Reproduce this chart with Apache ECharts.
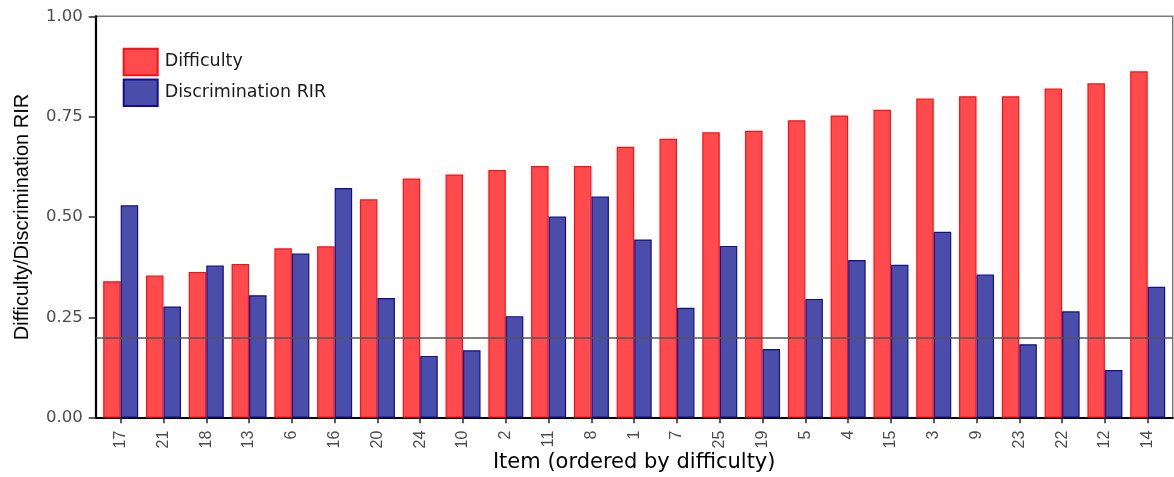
<!DOCTYPE html>
<html>
<head>
<meta charset="utf-8">
<script src="https://cdn.jsdelivr.net/npm/echarts@6/dist/echarts.min.js"></script>
<style>
html,body{margin:0;padding:0;background:#fff;}
#chart{width:1174px;height:477px;}
</style>
</head>
<body>
<div id="chart"></div>
<script>
const items = ['17','21','18','13','6','16','20','24','10','2','11','8','1','7','25','19','5','4','15','3','9','23','22','12','14'];
const difficulty = [0.340,0.354,0.363,0.383,0.422,0.427,0.544,0.596,0.606,0.617,0.627,0.627,0.675,0.695,0.711,0.715,0.741,0.753,0.767,0.795,0.801,0.801,0.820,0.833,0.863];
const discrimination = [0.529,0.277,0.379,0.305,0.409,0.572,0.298,0.154,0.168,0.253,0.501,0.551,0.444,0.274,0.428,0.171,0.296,0.393,0.381,0.463,0.357,0.183,0.265,0.119,0.326];
const yMin = 0, yMax = 1, yInterval = 0.25;
const refLine = 0.2;

const chart = echarts.init(document.getElementById('chart'), null, {renderer:'canvas'});
const tickColor = '#333333';
const labelColor = '#4D4D4D';
chart.setOption({
  animation: false,
  backgroundColor: '#ffffff',
  grid: [
    {left: 99.3, right: 4.9, top: 16.3, bottom: 59.3, containLabel: false, outerBoundsMode: 'none'},
    {left: 95.7, right: 1.3, top: 16.3, bottom: 59.3, containLabel: false, outerBoundsMode: 'none', show: true, borderColor: '#7a7a7a', borderWidth: 1.5, backgroundColor: 'transparent'}
  ],
  legend: {
    orient: 'vertical', left: 122.7, top: 47.7, padding: 0,
    icon: 'rect',
    itemWidth: 34, itemHeight: 26.5, itemGap: 2.4,
    textStyle: {fontFamily: 'DejaVu Sans', fontSize: 17.5, color: '#1a1a1a', padding: [0,0,0,2]},
    data: ['Difficulty', 'Discrimination RIR']
  },
  xAxis: [
    {
      type: 'category', gridIndex: 0, data: items, boundaryGap: true,
      axisLine: {show: false},
      axisTick: {show: true, alignWithLabel: true, length: 5.5, lineStyle: {color: tickColor, width: 1.6}},
      axisLabel: {rotate: 90, margin: 13, fontFamily: 'Liberation Sans', fontSize: 16, color: labelColor},
      name: 'Item (ordered by difficulty)', nameLocation: 'middle', nameGap: 34, nameMoveOverlap: false,
      nameTextStyle: {fontFamily: 'DejaVu Sans', fontSize: 21, color: '#000'}
    },
    {
      type: 'value', gridIndex: 1, min: 0, max: 1,
      axisLine: {show: true, lineStyle: {color: '#000', width: 2.2}},
      axisTick: {show: false}, axisLabel: {show: false}, splitLine: {show: false}
    }
  ],
  yAxis: [
    {
      type: 'value', gridIndex: 0, min: yMin, max: yMax, interval: yInterval,
      show: false
    },
    {
      type: 'value', gridIndex: 1, min: yMin, max: yMax, interval: yInterval,
      axisLine: {show: true, lineStyle: {color: '#000', width: 2.2}},
      axisTick: {show: true, length: 7, lineStyle: {color: tickColor, width: 1.6}},
      axisLabel: {margin: 13, fontFamily: 'DejaVu Sans', fontSize: 16.5, color: labelColor, formatter: v => v.toFixed(2)},
      splitLine: {show: false},
      name: 'Difficulty/Discrimination RIR', nameLocation: 'middle', nameGap: 63, nameMoveOverlap: false,
      nameTextStyle: {fontFamily: 'Liberation Sans', fontSize: 20, color: '#000'}
    }
  ],
  series: [
    {
      name: 'Difficulty', type: 'bar', xAxisIndex: 0, yAxisIndex: 0,
      data: difficulty, barWidth: 17.5, barGap: '0%',
      itemStyle: {color: '#FF4B4E', borderColor: '#FF1010', borderWidth: 1.2}
    },
    {
      name: 'Discrimination RIR', type: 'bar', xAxisIndex: 0, yAxisIndex: 0,
      data: discrimination, barWidth: 17.5, barGap: '0%',
      itemStyle: {color: '#4B4DAB', borderColor: '#10108C', borderWidth: 1.2}
    },
    {
      name: 'ref', type: 'line', xAxisIndex: 1, yAxisIndex: 1, data: [], z: 5,
      markLine: {
        silent: true, symbol: ['none','none'], label: {show: false},
        lineStyle: {color: '#555555', width: 1.6, type: 'solid'},
        data: [{yAxis: refLine}]
      }
    }
  ]
});
</script>
</body>
</html>
